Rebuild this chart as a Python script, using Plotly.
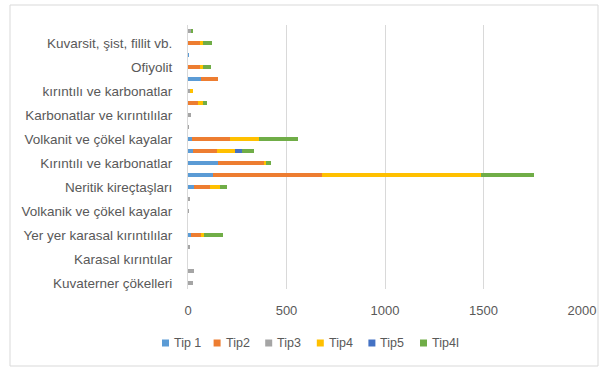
import plotly.graph_objects as go

# categories bottom -> top; only every other one is labelled in the reference
tick_labels = [
    "Kuvaterner çökelleri", "Karasal kırıntılar", "Yer yer karasal kırıntılılar",
    "Volkanik ve çökel kayalar", "Neritik kireçtaşları", "Kırıntılı ve karbonatlar",
    "Volkanit ve çökel kayalar", "Karbonatlar ve kırıntılılar", "kırıntılı ve karbonatlar",
    "Ofiyolit", "Kuvarsit, şist, fillit vb.",
]
n_categories = 22
positions = list(range(n_categories))
tick_positions = positions[::2]

series_names = ["Tip 1", "Tip2", "Tip3", "Tip4", "Tip5", "Tip4I"]
tip1 = [0, 0, 0, 0, 15, 0, 0, 0, 30, 125, 150, 25, 20, 0, 0, 0, 0, 65, 0, 5, 0, 0]
tip2 = [0, 0, 0, 0, 50, 0, 0, 0, 80, 555, 240, 120, 195, 0, 0, 50, 0, 85, 65, 0, 65, 0]
tip3 = [25, 30, 0, 10, 0, 0, 3, 8, 0, 0, 0, 0, 0, 5, 15, 0, 10, 0, 0, 0, 0, 15]
tip4 = [0, 0, 0, 0, 15, 0, 0, 0, 50, 805, 8, 92, 143, 0, 0, 25, 15, 0, 10, 0, 10, 0]
tip5 = [0, 0, 0, 0, 0, 0, 0, 0, 0, 0, 0, 35, 0, 0, 0, 0, 0, 0, 0, 0, 0, 0]
tip4i = [0, 0, 0, 0, 100, 0, 0, 0, 40, 270, 25, 65, 200, 0, 0, 20, 0, 0, 40, 0, 45, 12]
series_values = [tip1, tip2, tip3, tip4, tip5, tip4i]
colors = ["#5B9BD5", "#ED7D31", "#A5A5A5", "#FFC000", "#4472C4", "#70AD47"]

x_ticks = [0, 500, 1000, 1500, 2000]

fig = go.Figure()
for name, vals, col in zip(series_names, series_values, colors):
    fig.add_trace(go.Bar(y=positions, x=vals, name=name, orientation="h",
                         marker=dict(color=col, line=dict(width=0)), showlegend=False))

W, H = 605, 368
ml, mr, mt, mb = 188, 23, 25, 79
pw, ph = W - ml - mr, H - mt - mb

def px(x):
    return (x - ml) / pw

def py(y):
    return (H - mb - y) / ph

shapes = [dict(type="rect", xref="paper", yref="paper",
               x0=px(10), x1=px(598), y0=py(366), y1=py(5),
               line=dict(color="#D9D9D9", width=1), fillcolor="rgba(0,0,0,0)", layer="below")]
annotations = []
# custom legend (Excel-like compact entries)
leg_x0, leg_step, leg_y = 162, 51.6, 343
for i, (name, col) in enumerate(zip(series_names, colors)):
    x = leg_x0 + i * leg_step
    shapes.append(dict(type="rect", xref="paper", yref="paper",
                       x0=px(x), x1=px(x + 7), y0=py(leg_y + 3.5), y1=py(leg_y - 3.5),
                       line=dict(width=0), fillcolor=col))
    annotations.append(dict(xref="paper", yref="paper", x=px(x + 10), y=py(leg_y),
                            xanchor="left", yanchor="middle", text=name, showarrow=False,
                            font=dict(size=12.5, color="#595959")))

fig.update_layout(
    width=W, height=H,
    margin=dict(l=ml, r=mr, t=mt, b=mb, autoexpand=False),
    barmode="stack", bargap=0.66,
    paper_bgcolor="white", plot_bgcolor="white",
    font=dict(family="Liberation Sans, Arial, sans-serif", size=13, color="#595959"),
    xaxis=dict(range=[0, 2000], tickvals=x_ticks, showgrid=True, gridcolor="#D9D9D9",
               gridwidth=1, zeroline=False, showline=False, ticks="outside", automargin=False,
               ticklen=9, tickcolor="rgba(0,0,0,0)", tickfont=dict(size=13, color="#595959")),
    yaxis=dict(range=[-0.5, n_categories - 0.5], tickvals=tick_positions, ticktext=tick_labels,
               showgrid=False, zeroline=False, showline=True, linecolor="#D9D9D9",
               ticks="outside", ticklen=12, tickcolor="rgba(0,0,0,0)", automargin=False,
               tickfont=dict(size=13.5, color="#595959")),
    showlegend=False,
    shapes=shapes,
    annotations=annotations,
)

fig.write_html("out.html", config={"displayModeBar": False},
               post_script="document.body.style.margin='0';")
